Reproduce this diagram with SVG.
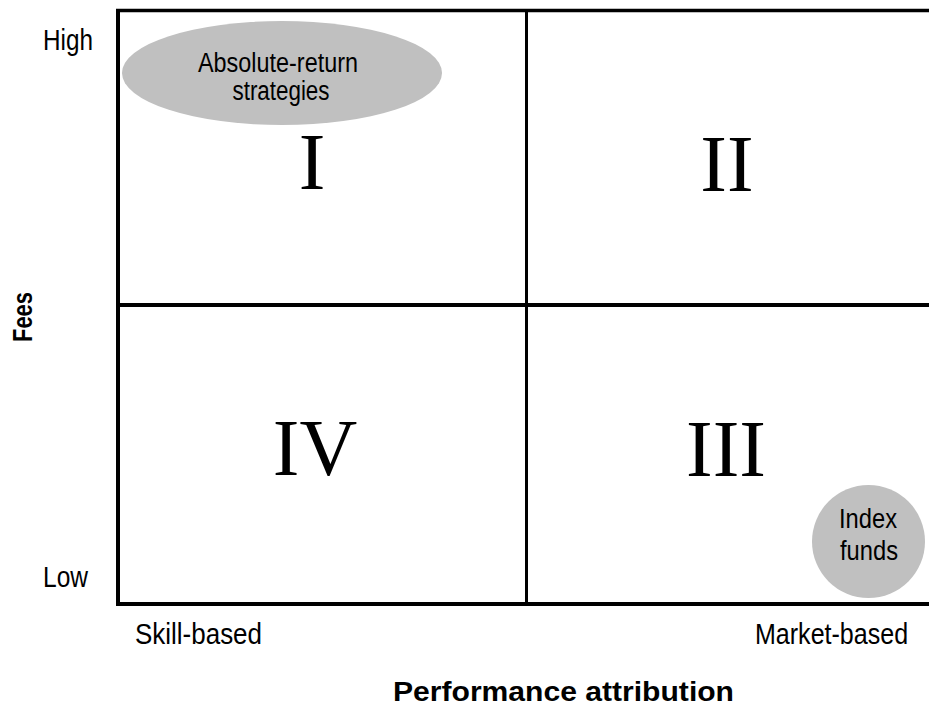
<svg xmlns="http://www.w3.org/2000/svg" width="929" height="707" viewBox="0 0 929 707">
<style>
.sans{font-family:"Liberation Sans",Arial,sans-serif;fill:#000}
.lbl{font-size:29px}
.node{font-size:27px;text-anchor:middle}
.bold{font-weight:bold}
.roman{font-family:"Liberation Serif","Times New Roman",serif;font-size:80px;text-anchor:middle;fill:#000}
.blob{fill:#c0c0c0}
.grid line{stroke:#000;stroke-linecap:butt}
</style>
<rect width="929" height="707" fill="#fff"/>
<g id="grid" class="grid">
<line x1="118" y1="9" x2="118" y2="606" stroke-width="4"/>
<line x1="116" y1="10.5" x2="929" y2="10.5" stroke-width="3.5"/>
<line x1="116" y1="604" x2="929" y2="604" stroke-width="4"/>
<line x1="118" y1="305" x2="929" y2="305" stroke-width="4"/>
<line x1="526.5" y1="10" x2="526.5" y2="604" stroke-width="3"/>
</g>
<g id="quadrant-I"><text class="roman" x="312" y="189">I</text></g>
<g id="quadrant-II"><text class="roman" x="727" y="191">II</text></g>
<g id="quadrant-III"><text class="roman" x="726" y="476">III</text></g>
<g id="quadrant-IV"><text class="roman" x="315" y="475">IV</text></g>
<g id="absolute-return">
<ellipse class="blob" cx="282" cy="73" rx="160" ry="52"/>
<text class="sans node" x="278" y="72" textLength="160" lengthAdjust="spacingAndGlyphs">Absolute-return</text>
<text class="sans node" x="281" y="100" textLength="97" lengthAdjust="spacingAndGlyphs">strategies</text>
</g>
<g id="index-funds">
<circle class="blob" cx="868.5" cy="541.5" r="56.5"/>
<text class="sans node" x="868" y="528" textLength="58" lengthAdjust="spacingAndGlyphs">Index</text>
<text class="sans node" x="869" y="560" textLength="58" lengthAdjust="spacingAndGlyphs">funds</text>
</g>
<g id="y-axis">
<text class="sans lbl" x="43" y="50" textLength="50" lengthAdjust="spacingAndGlyphs">High</text>
<text class="sans lbl" x="43" y="587" textLength="45" lengthAdjust="spacingAndGlyphs">Low</text>
<text class="sans bold" font-size="28" text-anchor="middle" transform="translate(32,317) rotate(-90)" textLength="50" lengthAdjust="spacingAndGlyphs">Fees</text>
</g>
<g id="x-axis">
<text class="sans lbl" x="135" y="644" textLength="127" lengthAdjust="spacingAndGlyphs">Skill-based</text>
<text class="sans lbl" transform="translate(755,644) scale(0.864,1)">Market-based</text>
<text class="sans bold" font-size="27" x="393" y="701" textLength="341" lengthAdjust="spacingAndGlyphs">Performance attribution</text>
</g>
</svg>
